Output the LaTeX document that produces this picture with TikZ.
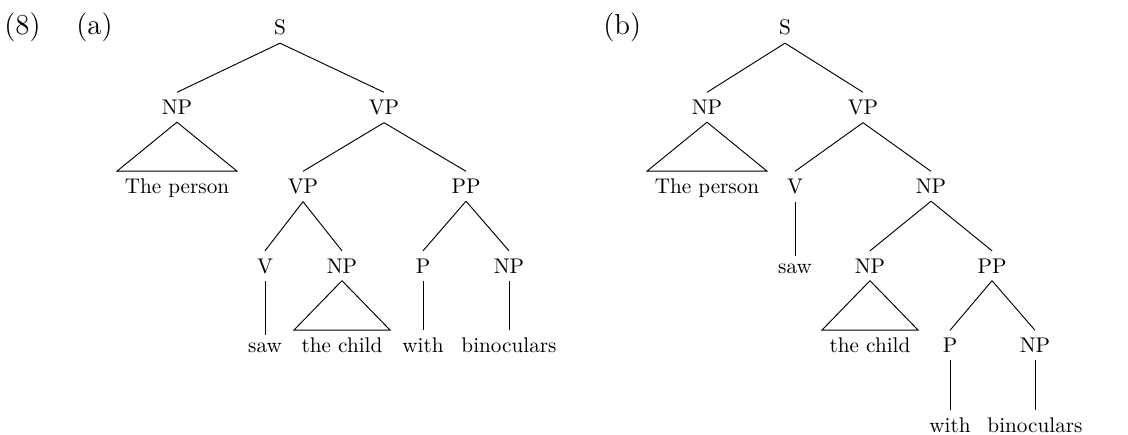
\documentclass[tikz,border=0pt]{standalone}
\begin{document}
\begin{tikzpicture}[x=0.4808pt, y=-0.4808pt,
  every node/.style={anchor=base, inner sep=3.5pt, font=\fontsize{10.2}{12}\selectfont},
  lbl/.style={anchor=base west, inner sep=0pt, font=\fontsize{13.9}{16}\selectfont},
  br/.style={line width=0.45pt},
  line join=miter]
\useasboundingbox (0,0) rectangle (1128,434);
\def\LA{35}\def\LB{114.5}\def\LC{193.5}\def\LD{273}\def\LE{352.5}\def\LF{432}
% labels
\node[lbl] (n8) at (4,\LA) {(8)};
\node[lbl] (na) at (76,\LA) {(a)};
\node[lbl] (nb) at (603,\LA) {(b)};
% ---------- tree (a)
\node (aS) at (280,\LA) {S};
\node (aNP) at (177,\LB) {NP};
\node (aVP) at (384,\LB) {VP};
\node (aTP) at (177,\LC) {The person};
\node (aVPb) at (303,\LC) {VP};
\node (aPP) at (466,\LC) {PP};
\node (aV) at (265,\LD) {V};
\node (aNPb) at (342,\LD) {NP};
\node (aP) at (423,\LD) {P};
\node (aNPc) at (509,\LD) {NP};
\node (asaw) at (265,\LE) {saw};
\node (achild) at (342,\LE) {the child};
\node (awith) at (423,\LE) {with};
\node (abin) at (509,\LE) {binoculars};
\draw[br] (aS.south) -- (aNP.north);
\draw[br] (aS.south) -- (aVP.north);
\draw[br] (aNP.south) -- (aTP.north west) -- (aTP.north east) -- cycle;
\draw[br] (aVP.south) -- (aVPb.north);
\draw[br] (aVP.south) -- (aPP.north);
\draw[br] (aVPb.south) -- (aV.north);
\draw[br] (aVPb.south) -- (aNPb.north);
\draw[br] (aPP.south) -- (aP.north);
\draw[br] (aPP.south) -- (aNPc.north);
\draw[br] (aV.south) -- (asaw.north);
\draw[br] (aNPb.south) -- (achild.north west) -- (achild.north east) -- cycle;
\draw[br] (aP.south) -- (awith.north);
\draw[br] (aNPc.south) -- (abin.north);
% ---------- tree (b)
\node (bS) at (785,\LA) {S};
\node (bNP) at (707,\LB) {NP};
\node (bVP) at (863,\LB) {VP};
\node (bTP) at (707,\LC) {The person};
\node (bV) at (795,\LC) {V};
\node (bNPb) at (931,\LC) {NP};
\node (bsaw) at (795,\LD) {saw};
\node (bNPc) at (870,\LD) {NP};
\node (bPP) at (992,\LD) {PP};
\node (bchild) at (870,\LE) {the child};
\node (bP) at (950,\LE) {P};
\node (bNPd) at (1035,\LE) {NP};
\node (bwith) at (950,\LF) {with};
\node (bbin) at (1035,\LF) {binoculars};
\draw[br] (bS.south) -- (bNP.north);
\draw[br] (bS.south) -- (bVP.north);
\draw[br] (bNP.south) -- (bTP.north west) -- (bTP.north east) -- cycle;
\draw[br] (bVP.south) -- (bV.north);
\draw[br] (bVP.south) -- (bNPb.north);
\draw[br] (bV.south) -- (bsaw.north);
\draw[br] (bNPb.south) -- (bNPc.north);
\draw[br] (bNPb.south) -- (bPP.north);
\draw[br] (bNPc.south) -- (bchild.north west) -- (bchild.north east) -- cycle;
\draw[br] (bPP.south) -- (bP.north);
\draw[br] (bPP.south) -- (bNPd.north);
\draw[br] (bP.south) -- (bwith.north);
\draw[br] (bNPd.south) -- (bbin.north);
\end{tikzpicture}
\end{document}
